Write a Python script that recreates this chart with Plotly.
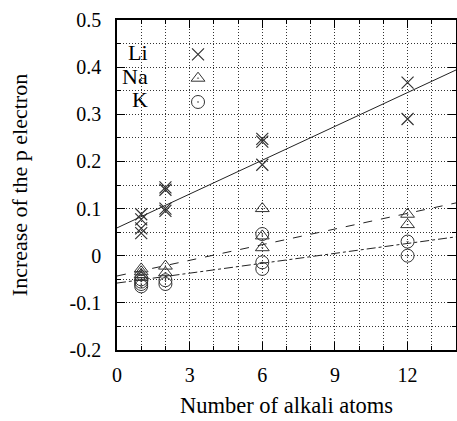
import plotly.graph_objects as go

# ---- data ----
li_x = [1, 1, 1, 1, 2, 2, 2, 2, 6, 6, 6, 12, 12]
li_y = [0.088, 0.077, 0.058, 0.048, 0.145, 0.140, 0.100, 0.095, 0.248, 0.242, 0.193, 0.367, 0.290]
na_x = [1, 1, 1, 1, 2, 2, 6, 6, 6, 12, 12]
na_y = [-0.028, -0.034, -0.040, -0.046, -0.022, -0.036, 0.100, 0.042, 0.017, 0.088, 0.066]
k_x = [1, 1, 1, 1, 2, 2, 6, 6, 6, 12, 12]
k_y = [-0.050, -0.055, -0.060, -0.065, -0.052, -0.060, 0.046, -0.014, -0.028, 0.030, 0.000]
fit_x = [0, 14]
li_fit = [0.059, 0.394]
na_fit = [-0.043, 0.112]
k_fit = [-0.058, 0.040]
x_ticks = [0, 3, 6, 9, 12]
x_tick_labels = ["0", "3", "6", "9", "12"]
y_ticks = [-0.2, -0.1, 0.0, 0.1, 0.2, 0.3, 0.4, 0.5]
y_tick_labels = ["-0.2", "-0.1", "0", "0.1", "0.2", "0.3", "0.4", "0.5"]
series_names = ["Li", "Na", "K"]

FONT = "Liberation Serif, Times New Roman, DejaVu Serif, serif"
MC = "#333333"
GRID_DASH = "1px,2px"

fig = go.Figure()
fig.add_trace(go.Scatter(x=fit_x, y=li_fit, mode="lines", line=dict(color="#222", width=1), showlegend=False))
fig.add_trace(go.Scatter(x=fit_x, y=na_fit, mode="lines", line=dict(color="#222", width=1, dash="dash"), showlegend=False))
fig.add_trace(go.Scatter(x=fit_x, y=k_fit, mode="lines", line=dict(color="#222", width=1, dash="dashdot"), showlegend=False))

fig.add_trace(go.Scatter(x=li_x, y=li_y, mode="markers", name=" ",
                         marker=dict(symbol="x-thin-open", size=12, line=dict(color=MC, width=1.2), color=MC)))
fig.add_trace(go.Scatter(x=na_x, y=na_y, mode="markers", name=" ",
                         marker=dict(symbol="triangle-up-open-dot", size=12, line=dict(color=MC, width=1), color=MC)))
fig.add_trace(go.Scatter(x=k_x, y=k_y, mode="markers", name=" ",
                         marker=dict(symbol="circle-open-dot", size=13, line=dict(color=MC, width=1), color=MC)))

# white box behind legend
fig.add_shape(type="rect", xref="paper", yref="paper", x0=0.004, x1=0.372, y0=0.722, y1=0.94,
              fillcolor="white", line=dict(width=0), layer="between")

leg_y = [0.900, 0.829, 0.758]
for name, yy in zip(series_names, leg_y):
    fig.add_annotation(text=name, xref="paper", yref="paper", x=0.097, y=yy,
                       xanchor="right", yanchor="middle", showarrow=False,
                       font=dict(family=FONT, size=22, color="black"))

axis_common = dict(showline=True, linecolor="black", linewidth=1.5, mirror="ticks",
                   ticks="inside", ticklen=8, tickcolor="black", zeroline=False, automargin=False,
                   showgrid=True, gridcolor="#333", griddash=GRID_DASH, gridwidth=1,
                   tickfont=dict(family=FONT, size=20, color="black"))

fig.update_xaxes(range=[0, 14], tickvals=x_ticks, ticktext=x_tick_labels,
                 minor=dict(dtick=1, tick0=0, showgrid=True, gridcolor="#333", griddash=GRID_DASH,
                            ticks="inside", ticklen=4, tickcolor="black"),
                 title=dict(text="Number of alkali atoms", font=dict(family=FONT, size=22.5, color="black"), standoff=12),
                 ticklabelstandoff=6,
                 **axis_common)
fig.update_yaxes(range=[-0.2, 0.5], tickvals=y_ticks, ticktext=y_tick_labels,
                 minor=dict(dtick=0.05, tick0=0, showgrid=True, gridcolor="#333", griddash=GRID_DASH,
                            ticks="inside", ticklen=4, tickcolor="black"),
                 title=dict(text="Increase of the p electron", font=dict(family=FONT, size=22, color="black"), standoff=36),
                 ticklabelstandoff=10,
                 **axis_common)

fig.update_layout(width=457, height=421, margin=dict(l=117, r=1, t=20, b=71),
                  plot_bgcolor="white", paper_bgcolor="white",
                  font=dict(family=FONT, color="black"),
                  showlegend=True,
                  legend=dict(x=0.18, y=0.947, xanchor="left", yanchor="top", bgcolor="rgba(0,0,0,0)",
                              font=dict(family=FONT, size=16), tracegroupgap=0, itemwidth=30))

fig.write_html("out.html", config={"displayModeBar": False},
               post_script="document.body.style.margin='0px';")
